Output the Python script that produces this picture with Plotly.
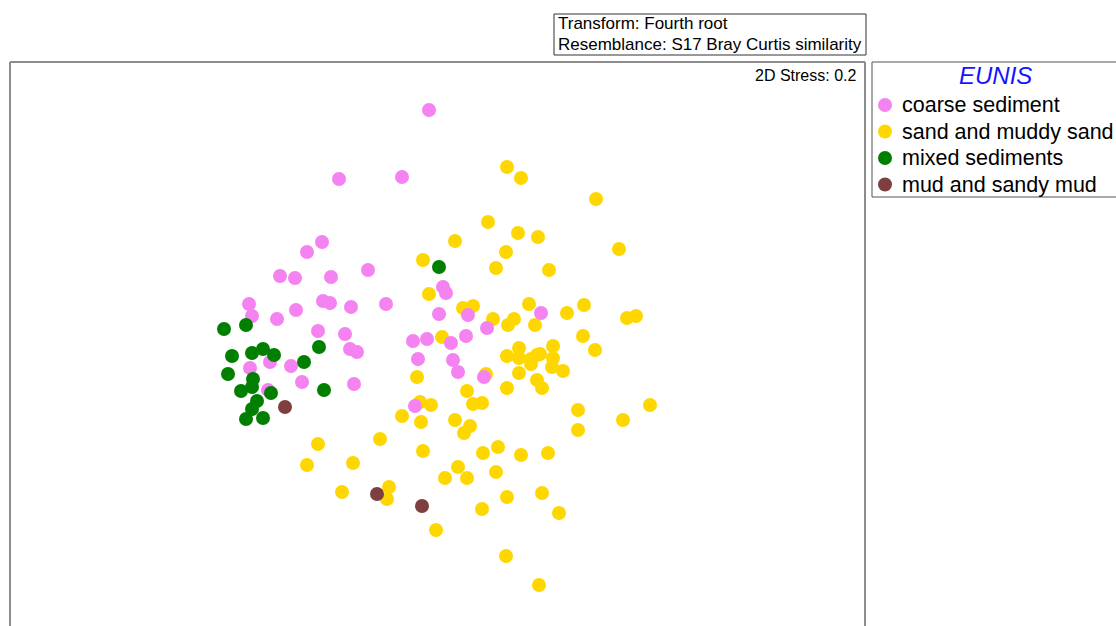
import plotly.graph_objects as go

# nMDS ordination, EUNIS habitat classes (coordinates in arbitrary MDS units)
categories = ["coarse sediment", "sand and muddy sand", "mixed sediments", "mud and sandy mud"]
colors = ["#F482F0", "#FFD700", "#007F00", "#7F3F3F"]

coarse_x = [429, 339, 402, 322, 307, 280, 295, 331, 368, 249, 252, 277, 296, 323, 330, 351, 386,
            318, 345, 350, 357, 250, 270, 291, 302, 354, 268,
            443, 446, 439, 468, 487, 541, 413, 427, 451, 466, 418, 453, 458, 484, 415]
coarse_y = [110, 179, 177, 242, 252, 276, 278, 277, 270, 304, 316, 319, 310, 301, 303, 307, 304,
            331, 334, 349, 352, 368, 362, 366, 382, 384, 390,
            287, 293, 314, 315, 328, 313, 341, 339, 343, 336, 359, 360, 372, 377, 406]

sand_x = [507, 521, 596, 488, 518, 538, 455, 506, 619, 423, 496, 549,
          429, 463, 473, 529, 584, 567, 627, 636, 493, 508, 514, 535, 442, 583, 553, 595,
          507, 519, 519, 531, 537, 531, 553, 552, 540, 563, 519, 486, 417, 537, 542, 507,
          467, 420, 431, 473, 482, 578, 402, 421, 455, 470, 464, 578, 650, 623,
          318, 380, 423, 307, 353, 483, 498, 521, 548, 458, 445, 467, 496, 342, 389, 387,
          507, 542, 482, 559, 436, 506, 539]
sand_y = [167, 178, 199, 222, 233, 237, 241, 252, 249, 260, 268, 270,
          294, 308, 306, 304, 305, 313, 318, 316, 319, 325, 319, 325, 337, 336, 346, 350,
          356, 348, 358, 359, 355, 364, 358, 367, 354, 371, 373, 374, 377, 380, 388, 388,
          391, 402, 405, 404, 403, 410, 416, 422, 420, 426, 433, 430, 405, 420,
          444, 439, 451, 465, 463, 453, 447, 455, 453, 467, 478, 478, 472, 492, 487, 499,
          497, 493, 509, 513, 530, 556, 585]

mixed_x = [224, 246, 232, 252, 263, 274, 319, 304, 228, 253, 252, 241, 271, 324, 257, 252, 246, 263, 439]
mixed_y = [329, 325, 356, 353, 349, 355, 347, 362, 374, 379, 387, 391, 393, 390, 401, 409, 419, 418, 267]

mud_x = [285, 377, 422]
mud_y = [407, 494, 506]

series = {
    "sand and muddy sand": (sand_x, sand_y),
    "coarse sediment": (coarse_x, coarse_y),
    "mixed sediments": (mixed_x, mixed_y),
    "mud and sandy mud": (mud_x, mud_y),
}

FONT = "Arial, Liberation Sans, sans-serif"

fig = go.Figure()
for name, (xs, ys) in series.items():
    fig.add_trace(go.Scatter(
        x=xs, y=ys, mode="markers", name=name, showlegend=False,
        marker=dict(size=14, color=colors[categories.index(name)], line=dict(width=0)),
    ))

fig.update_layout(
    width=1116, height=626,
    margin=dict(l=10, r=251, t=62, b=0),
    paper_bgcolor="white", plot_bgcolor="white",
    font=dict(family=FONT, color="black"),
    xaxis=dict(range=[10, 865], visible=False, fixedrange=True),
    yaxis=dict(range=[626, 62], visible=False, fixedrange=True),
)

# plot frame: open at the bottom
frame = dict(type="line", xref="paper", yref="paper", line=dict(color="#8c8c8c", width=2))
fig.add_shape(x0=0, x1=0, y0=0, y1=1, **frame)
fig.add_shape(x0=0, x1=1, y0=1, y1=1, **frame)
fig.add_shape(x0=1, x1=1, y0=0, y1=1, **frame)

def px_x(p):
    return (p - 10) / 855

def px_y(p):
    return (626 - p) / 564

# transform / resemblance box
fig.add_shape(type="rect", xref="paper", yref="paper",
              x0=px_x(554), x1=px_x(866), y0=px_y(55), y1=px_y(14),
              line=dict(color="#333333", width=1), fillcolor="white")
for txt, yy in [("Transform: Fourth root", 23.5), ("Resemblance: S17 Bray Curtis similarity", 44)]:
    fig.add_annotation(x=px_x(556), y=px_y(yy), xref="paper", yref="paper", text=txt,
                       showarrow=False, xanchor="left", yanchor="middle",
                       font=dict(size=17, family=FONT))

fig.add_annotation(x=px_x(858), y=px_y(75), xref="paper", yref="paper", text="2D Stress: 0.2",
                   showarrow=False, xanchor="right", yanchor="middle",
                   font=dict(size=16, family=FONT))

# legend box (runs off the right edge, as in the original)
fig.add_shape(type="rect", xref="paper", yref="paper",
              x0=px_x(872), x1=px_x(1130), y0=px_y(197), y1=px_y(62),
              line=dict(color="#555555", width=1), fillcolor="white")
fig.add_annotation(x=px_x(995), y=px_y(76), xref="paper", yref="paper", text="<i>EUNIS</i>",
                   showarrow=False, xanchor="center", yanchor="middle",
                   font=dict(size=24, family=FONT, color="#1414FF"))
r = 7
for i, name in enumerate(categories):
    cy = 105 + i * 26.5
    fig.add_shape(type="circle", xref="paper", yref="paper",
                  x0=px_x(885 - r), x1=px_x(885 + r), y0=px_y(cy + r), y1=px_y(cy - r),
                  line=dict(width=0), fillcolor=colors[i])
    fig.add_annotation(x=px_x(900), y=px_y(cy), xref="paper", yref="paper", text=name,
                       showarrow=False, xanchor="left", yanchor="middle",
                       font=dict(size=21.5, family=FONT))

# drop the default 8px body margin so the figure fills the window exactly
fig.write_html("out.html", config={"displayModeBar": False},
               post_script="document.body.style.margin='0'; document.body.style.overflow='hidden';")
